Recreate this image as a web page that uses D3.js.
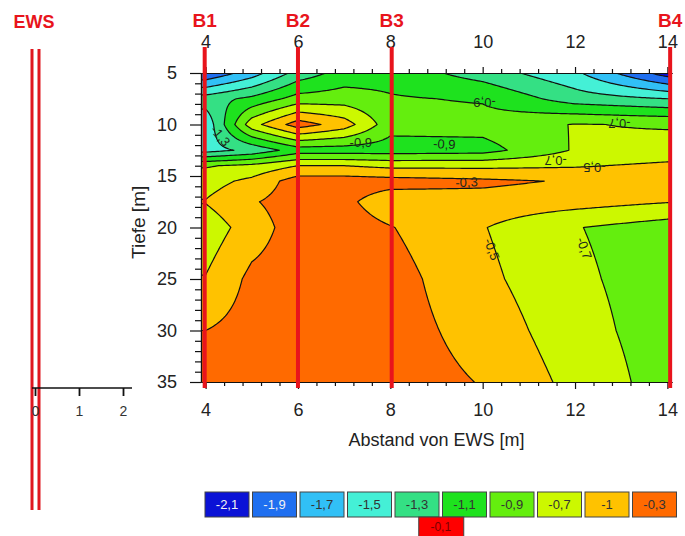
<!DOCTYPE html>
<html>
<head>
<meta charset="utf-8">
<script src="https://cdn.jsdelivr.net/npm/d3@7"></script>
<style>
  body { margin: 0; background: #fff; }
  svg text { font-family: "Liberation Sans", Arial, sans-serif; }
</style>
</head>
<body>
<div id="chart"></div>
<script>
// measurement grid: distance from the EWS [m] and depth [m]
var distances = [4, 5, 6, 7, 8, 10, 12, 14];
var depths = [5, 7.5, 10, 12.5, 14, 15.5, 17.5, 20, 25, 30, 35];

// temperature change [K], one row per depth, one column per distance
var tempRows = [
  [-1.88, -1.6, -1.22, -1.02, -0.98, -1.19, -1.46, -2.0],   // 5
  [-1.2, -1.05, -0.82, -0.8, -0.88, -0.92, -1.2, -1.3],      // 7.5
  [-1.45, -0.58, -0.2, -0.4, -0.82, -0.82, -0.69, -0.72],    // 10
  [-1.38, -1.25, -1.0, -1.0, -1.0, -0.98, -0.68, -0.62],     // 12.5
  [-0.72, -0.65, -0.5, -0.5, -0.55, -0.55, -0.52, -0.46],    // 14
  [-0.58, -0.45, -0.2, -0.2, -0.22, -0.26, -0.32, -0.4],     // 15.5
  [-0.49, -0.32, -0.2, -0.25, -0.42, -0.38, -0.42, -0.49],   // 17.5
  [-0.62, -0.4, -0.2, -0.2, -0.29, -0.49, -0.69, -0.8],      // 20
  [-0.49, -0.25, -0.2, -0.2, -0.22, -0.45, -0.66, -0.8],     // 25
  [-0.3, -0.22, -0.2, -0.2, -0.21, -0.38, -0.62, -0.8],      // 30
  [-0.22, -0.2, -0.2, -0.2, -0.2, -0.31, -0.56, -0.79]       // 35
];

// contour levels and their fill colours (legend order)
var levels = [-2.1, -1.9, -1.7, -1.5, -1.3, -1.1, -0.9, -0.7, -0.5, -0.3, -0.1];
var levelColors = ["#0b12d6", "#1f6ff0", "#31c0f6", "#44f0d6", "#34e084", "#1ee21e",
                   "#64ee0e", "#ccf800", "#ffc200", "#ff6a00", "#ff0000"];
var legendLabels = ["-2,1", "-1,9", "-1,7", "-1,5", "-1,3", "-1,1", "-0,9", "-0,7", "-1", "-0,3", "-0,1"];

var xMajor = [4, 6, 8, 10, 12, 14];
var yMajor = [5, 10, 15, 20, 25, 30, 35];
var ewsTicks = [0, 1, 2];

var boreholes = [
  { name: "B1", x: 3.98 },
  { name: "B2", x: 6 },
  { name: "B3", x: 8.03 },
  { name: "B4", x: 14.06 }
];

var contourLabels = [
  { x: 4.32, y: 11.1, text: "-1,3", angle: 50 },
  { x: 7.36, y: 11.7, text: "-0,9", angle: 0 },
  { x: 9.17, y: 11.9, text: "-0,9", angle: 3 },
  { x: 10.04, y: 7.9, text: "-0,9", angle: 180 },
  { x: 12.96, y: 9.95, text: "-0,7", angle: 180 },
  { x: 11.58, y: 13.5, text: "-0,7", angle: 180 },
  { x: 12.42, y: 14.2, text: "-0,5", angle: 180 },
  { x: 9.65, y: 15.6, text: "-0,3", angle: -2 },
  { x: 10.2, y: 22.1, text: "-0,5", angle: 70 },
  { x: 12.2, y: 22.0, text: "-0,7", angle: 70 }
];

var width = 685, height = 536;
var plot = { left: 201, top: 73, right: 672, bottom: 382 };

var svg = d3.select("#chart").append("svg")
  .attr("width", width)
  .attr("height", height);

var xScale = d3.scaleLinear().domain([3.9, 14.1]).range([plot.left, plot.right]);
var yScale = d3.scaleLinear().domain([5, 35]).range([plot.top, plot.bottom]);

// bilinear lookup in the measurement grid (edges held constant)
function lookup(x, y) {
  x = Math.max(distances[0], Math.min(distances[distances.length - 1], x));
  y = Math.max(depths[0], Math.min(depths[depths.length - 1], y));
  var i = Math.min(d3.bisectRight(distances, x) - 1, distances.length - 2);
  var j = Math.min(d3.bisectRight(depths, y) - 1, depths.length - 2);
  var tx = (x - distances[i]) / (distances[i + 1] - distances[i]);
  var ty = (y - depths[j]) / (depths[j + 1] - depths[j]);
  var a = tempRows[j][i], b = tempRows[j][i + 1];
  var c = tempRows[j + 1][i], d = tempRows[j + 1][i + 1];
  return (a * (1 - tx) + b * tx) * (1 - ty) + (c * (1 - tx) + d * tx) * ty;
}

var x0 = 3.9, dxs = 0.05, nx = 205;
var y0 = 5, dys = 0.1, ny = 301;
var grid = new Array(nx * ny);
for (var m = 0; m < ny; m++) {
  for (var k = 0; k < nx; k++) {
    grid[m * nx + k] = lookup(x0 + k * dxs, y0 + m * dys);
  }
}

var contours = d3.contours().size([nx, ny]).thresholds(levels)(grid);

var projection = d3.geoTransform({
  point: function(c1, c2) {
    this.stream.point(xScale(x0 + (c1 - 0.5) * dxs), yScale(y0 + (c2 - 0.5) * dys));
  }
});
var path = d3.geoPath(projection);

svg.append("defs").append("clipPath").attr("id", "plot-clip")
  .append("rect")
  .attr("x", plot.left).attr("y", plot.top)
  .attr("width", plot.right - plot.left).attr("height", plot.bottom - plot.top);

var plotArea = svg.append("g").attr("clip-path", "url(#plot-clip)");

plotArea.append("rect")
  .attr("x", plot.left).attr("y", plot.top)
  .attr("width", plot.right - plot.left).attr("height", plot.bottom - plot.top)
  .attr("fill", levelColors[0]);

plotArea.append("g").attr("class", "fills")
  .selectAll("path")
  .data(contours)
  .enter().append("path")
    .attr("d", path)
    .attr("fill", (d, i) => levelColors[i])
    .attr("stroke", "none");

plotArea.append("g").attr("class", "lines")
  .selectAll("path")
  .data(contours.slice(1))
  .enter().append("path")
    .attr("d", path)
    .attr("fill", "none")
    .attr("stroke", "#111")
    .attr("stroke-width", 1.2)
    .attr("stroke-linejoin", "round");

// contour labels
svg.append("g").attr("class", "contour-labels")
  .selectAll("text")
  .data(contourLabels)
  .enter().append("text")
    .attr("transform", d => `translate(${xScale(d.x)},${yScale(d.y)}) rotate(${d.angle})`)
    .attr("text-anchor", "middle")
    .attr("dy", "0.35em")
    .attr("font-size", 13)
    .attr("fill", "#1c2a1c")
    .text(d => d.text);

// axes
var xMinor = d3.range(4, 14.01, 0.4).filter(v => Math.abs(v / 2 - Math.round(v / 2)) > 0.01);
var yMinor = d3.range(5, 35.01, 1).filter(v => v % 5 !== 0);

function styleAxis(g) {
  g.selectAll(".domain").attr("stroke", "#111").attr("stroke-width", 1.2);
  g.selectAll(".tick line").attr("stroke", "#111").attr("stroke-width", 1.2);
  g.selectAll("text").attr("font-size", 18).attr("fill", "#222")
    .style("font-family", '"Liberation Sans", Arial, sans-serif');
}

svg.append("g")
  .attr("transform", `translate(0,${plot.bottom})`)
  .call(d3.axisBottom(xScale).tickValues(xMinor).tickSize(4).tickSizeOuter(0).tickFormat(""))
  .call(styleAxis);
svg.append("g")
  .attr("transform", `translate(0,${plot.bottom})`)
  .call(d3.axisBottom(xScale).tickValues(xMajor).tickSize(7).tickSizeOuter(0).tickPadding(14).tickFormat(d3.format("d")))
  .call(styleAxis);

svg.append("g")
  .attr("transform", `translate(0,${plot.top})`)
  .call(d3.axisTop(xScale).tickValues(xMinor).tickSize(4).tickSizeOuter(0).tickFormat(""))
  .call(styleAxis);
svg.append("g")
  .attr("transform", `translate(0,${plot.top})`)
  .call(d3.axisTop(xScale).tickValues(xMajor).tickSize(6).tickSizeOuter(0).tickPadding(19).tickFormat(d3.format("d")))
  .call(styleAxis);

svg.append("g")
  .attr("transform", `translate(${plot.left},0)`)
  .call(d3.axisLeft(yScale).tickValues(yMinor).tickSize(6).tickSizeOuter(0).tickFormat(""))
  .call(styleAxis);
svg.append("g")
  .attr("transform", `translate(${plot.left},0)`)
  .call(d3.axisLeft(yScale).tickValues(yMajor).tickSize(11).tickSizeOuter(0).tickPadding(13).tickFormat(d3.format("d")))
  .call(styleAxis);

// axis titles
svg.append("text")
  .attr("x", (plot.left + plot.right) / 2)
  .attr("y", 446)
  .attr("text-anchor", "middle")
  .attr("font-size", 18)
  .attr("fill", "#222")
  .text("Abstand von EWS [m]");

svg.append("text")
  .attr("transform", `translate(145,${yScale(19.5)}) rotate(-90)`)
  .attr("text-anchor", "middle")
  .attr("font-size", 19)
  .attr("fill", "#222")
  .text("Tiefe [m]");

// borehole markers
var bh = svg.append("g").attr("class", "boreholes");
bh.selectAll("line")
  .data(boreholes)
  .enter().append("line")
    .attr("x1", d => xScale(d.x)).attr("x2", d => xScale(d.x))
    .attr("y1", plot.top - 26).attr("y2", plot.bottom + 6)
    .attr("stroke", "#e8141c")
    .attr("stroke-width", 4);
bh.selectAll("text")
  .data(boreholes)
  .enter().append("text")
    .attr("x", d => xScale(d.x))
    .attr("y", 27)
    .attr("text-anchor", "middle")
    .attr("font-size", 19)
    .attr("font-weight", "bold")
    .attr("fill", "#e8141c")
    .text(d => d.name);

// EWS (borehole heat exchanger) with its small distance axis
var ewsScale = d3.scaleLinear().domain([0, 2]).range([35, 123]);
var ews = svg.append("g").attr("class", "ews");
ews.append("text")
  .attr("x", 34).attr("y", 28)
  .attr("text-anchor", "middle")
  .attr("font-size", 18)
  .attr("font-weight", "bold")
  .attr("fill", "#e8141c")
  .text("EWS");
ews.selectAll("line.pipe")
  .data([32, 39])
  .enter().append("line")
    .attr("class", "pipe")
    .attr("x1", d => d).attr("x2", d => d)
    .attr("y1", 49).attr("y2", 510)
    .attr("stroke", "#e0161e")
    .attr("stroke-width", 3);
ews.append("line")
  .attr("x1", 32).attr("x2", 132)
  .attr("y1", 388).attr("y2", 388)
  .attr("stroke", "#111").attr("stroke-width", 1.5);
var ewsAxis = ews.append("g")
  .attr("transform", "translate(0,388)")
  .call(d3.axisBottom(ewsScale).tickValues(ewsTicks).tickSize(8).tickSizeOuter(0).tickPadding(10).tickFormat(d3.format("d")));
ewsAxis.select(".domain").remove();
ewsAxis.selectAll(".tick line").attr("stroke", "#111").attr("stroke-width", 1.8);
ewsAxis.selectAll("text").attr("font-size", 14).attr("fill", "#333")
  .style("font-family", '"Liberation Sans", Arial, sans-serif');

// colour legend
var legend = svg.append("g").attr("class", "legend");
var boxW = 44, boxH = 25, pitch = 47.5, legendX = 205, legendY = 492;
var mainKeys = levels.slice(0, 10);
var keys = legend.selectAll("g.key")
  .data(mainKeys)
  .enter().append("g")
    .attr("class", "key")
    .attr("transform", (d, i) => `translate(${legendX + i * pitch},${legendY})`);
keys.append("rect")
  .attr("width", boxW).attr("height", boxH)
  .attr("fill", (d, i) => levelColors[i])
  .attr("stroke", "#444").attr("stroke-width", 1);
keys.append("text")
  .attr("x", boxW / 2).attr("y", boxH / 2)
  .attr("dy", "0.35em")
  .attr("text-anchor", "middle")
  .attr("font-size", 13)
  .attr("fill", (d, i) => i < 2 ? "#f2f2f2" : "#333")
  .text((d, i) => legendLabels[i]);

var lastKey = legend.append("g")
  .attr("transform", `translate(${legendX + (mainKeys.length * pitch - (pitch - boxW)) / 2 - boxW / 2},${legendY + boxH})`);
lastKey.append("rect")
  .attr("width", boxW + 1).attr("height", 24)
  .attr("fill", levelColors[10])
  .attr("stroke", "#444").attr("stroke-width", 1);
lastKey.append("text")
  .attr("x", boxW / 2).attr("y", 10)
  .attr("dy", "0.35em")
  .attr("text-anchor", "middle")
  .attr("font-size", 12)
  .attr("fill", "#7a0000")
  .text(legendLabels[10]);
</script>
</body>
</html>
